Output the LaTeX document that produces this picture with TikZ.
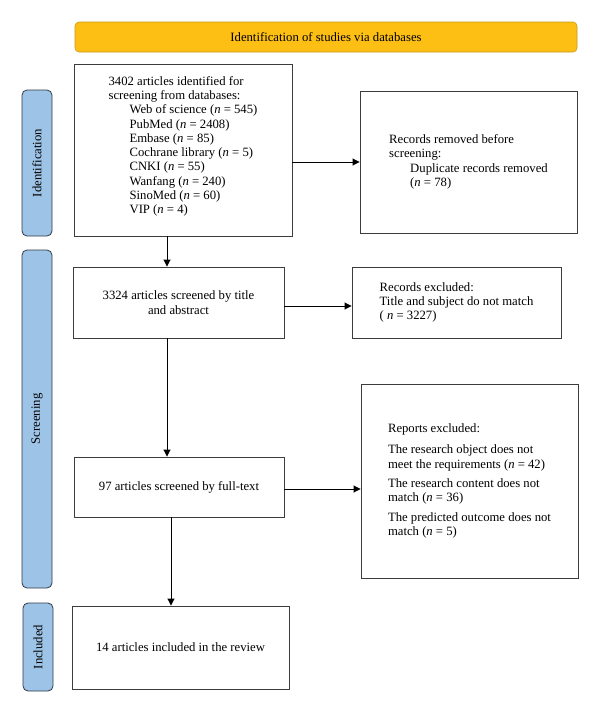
\documentclass[tikz,border=0pt]{standalone}
\usepackage{fontspec}
\setmainfont{Liberation Serif}
\usetikzlibrary{arrows.meta}
\definecolor{bannerfill}{HTML}{FDBF14}
\definecolor{bannerdraw}{HTML}{C99A1A}
\definecolor{sidefill}{HTML}{9DC3E6}
\definecolor{sidedraw}{HTML}{2F3A46}
\definecolor{boxdraw}{HTML}{3C3C3C}
\begin{document}
\begin{tikzpicture}[x=1pt,y=-1pt,
  every node/.style={font=\fontsize{12.7}{14.3}\selectfont, inner sep=0pt},
  banner/.style={draw=bannerdraw, fill=bannerfill, rounded corners=4pt, line width=0.6pt},
  side/.style={draw=sidedraw, fill=sidefill, rounded corners=5pt, line width=0.8pt, rotate=90},
  flowbox/.style={draw=boxdraw, line width=0.9pt, align=left},
  cbox/.style={draw=boxdraw, line width=0.9pt, align=center},
  arr/.style={-{Triangle[length=7pt,width=7pt]}, line width=0.9pt, draw=black}
]
\useasboundingbox (0,0) rectangle (600,713);

\node[banner, minimum width=502pt, minimum height=30pt] (banner) at (326,37) {Identification of studies via databases};

\node[side, minimum width=146pt, minimum height=30pt] (sid) at (37,163) {Identification};
\node[side, minimum width=338pt, minimum height=30pt] (sscr) at (37,419) {Screening};
\node[side, minimum width=88pt, minimum height=30pt] (sinc) at (38,647) {Included};

\node[flowbox, minimum width=218pt, minimum height=172pt] (b1) at (183,150) {3402 articles identified for\\
screening from databases:\\
\hspace*{21pt}Web of science (\textit{n} = 545)\\
\hspace*{21pt}PubMed (\textit{n} = 2408)\\
\hspace*{21pt}Embase (\textit{n} = 85)\\
\hspace*{21pt}Cochrane library (\textit{n} = 5)\\
\hspace*{21pt}CNKI (\textit{n} = 55)\\
\hspace*{21pt}Wanfang (\textit{n} = 240)\\
\hspace*{21pt}SinoMed (\textit{n} = 60)\\
\hspace*{21pt}VIP (\textit{n} = 4)\\[-4.3pt]\mbox{}};

\node[flowbox, minimum width=217pt, minimum height=142pt] (r1) at (468.5,162) {Records removed before\\
screening:\\
\hspace*{21pt}Duplicate records removed\\
\hspace*{21pt}(\textit{n} = 78)};

\node[cbox, minimum width=211pt, minimum height=71pt] (b2) at (178.5,302.5) {3324 articles screened by title\\and abstract};

\node[flowbox, minimum width=209pt, minimum height=71pt] (r2) at (456.5,302.5) {Records excluded:\\
Title and subject do not match\\
( \textit{n} = 3227)};

\node[cbox, minimum width=210pt, minimum height=60pt] (b3) at (179,487) {97 articles screened by full-text};

\node[flowbox, minimum width=217pt, minimum height=194pt] (r3) at (469.5,481) {Reports excluded:\\[7pt]
The research object does not\\
meet the requirements (\textit{n} = 42)\\[5pt]
The research content does not\\
match (\textit{n} = 36)\\[5pt]
The predicted outcome does not\\
match (\textit{n} = 5)};

\node[cbox, minimum width=217pt, minimum height=83pt] (b4) at (180.5,647.5) {14 articles included in the review};

\coordinate (xa) at (167,0);
\coordinate (xb) at (171,0);
\coordinate (ya) at (0,162);
\coordinate (yb) at (0,306);
\coordinate (yc) at (0,489);

\draw[arr] (b1.south -| xa) -- (b2.north -| xa);
\draw[arr] (b2.south -| xa) -- (b3.north -| xa);
\draw[arr] (b3.south -| xb) -- (b4.north -| xb);
\draw[arr] (b1.east |- ya) -- (r1.west |- ya);
\draw[arr] (b2.east |- yb) -- (r2.west |- yb);
\draw[arr] (b3.east |- yc) -- (r3.west |- yc);
\end{tikzpicture}
\end{document}
